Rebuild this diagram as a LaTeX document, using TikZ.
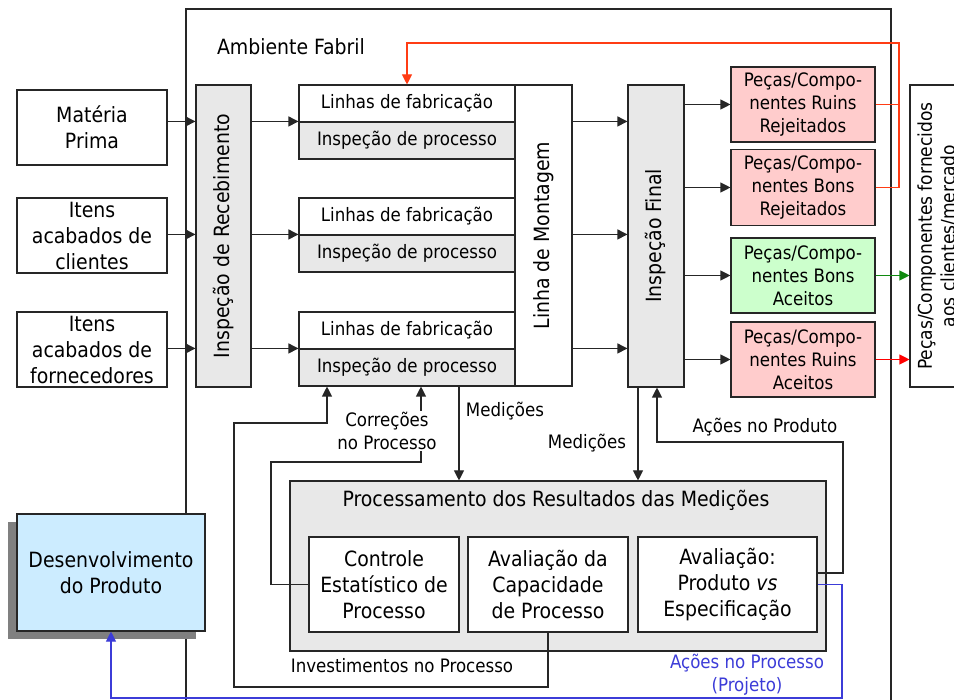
\documentclass[tikz,border=0pt]{standalone}
\usepackage{fontspec}
\setmainfont{DejaVu Sans Condensed}
\usetikzlibrary{arrows.meta,shadows}

\definecolor{boxgray}{HTML}{E8E8E8}
\definecolor{badpink}{HTML}{FFCCCC}
\definecolor{goodgreen}{HTML}{CCFFCC}
\definecolor{devblue}{HTML}{CCECFF}
\definecolor{feedred}{HTML}{FF3C14}
\definecolor{acceptred}{HTML}{FF0000}
\definecolor{acceptgreen}{HTML}{108A10}
\definecolor{projblue}{HTML}{3C3CD8}
\definecolor{shadowgray}{HTML}{808080}
\definecolor{linegray}{HTML}{262626}

\tikzset{
  box/.style={draw=linegray, line width=1.1pt, inner sep=2pt, align=center},
  bigtxt/.style={font=\fontsize{21}{26}\selectfont},
  midtxt/.style={font=\fontsize{19}{23}\selectfont},
  smalltxt/.style={font=\fontsize{18.5}{23}\selectfont},
  tip/.style={-{Triangle[length=10pt,width=10pt]}},
  link/.style={draw=linegray, line width=1.1pt},
  arr/.style={link, tip},
  feed/.style={draw=feedred, line width=1.1pt},
  feedarr/.style={feed, tip},
  redarr/.style={draw=acceptred, line width=1.1pt, tip},
  greenarr/.style={draw=acceptgreen, line width=1.1pt, tip},
  bluearr/.style={draw=projblue, line width=1.1pt, tip},
  lbl/.style={smalltxt, inner sep=1pt, align=center},
}

\begin{document}
\begin{tikzpicture}[x=1pt, y=-1pt]
\useasboundingbox (0,0) rectangle (954,700);
\clip (0,0) rectangle (954,700);
\fill[white] (0,0) rectangle (954,700);

% factory environment frame
\draw[link] (186,720) -- (186,9) -- (891,9) -- (891,720);
\node[bigtxt, anchor=center] (amb) at (291,47) {Ambiente Fabril};

% inputs
\node[box, bigtxt, minimum width=150, minimum height=75] (mp) at (92,127.5) {Matéria\\Prima};
\node[box, bigtxt, minimum width=150, minimum height=75] (ic) at (92,235.5) {Itens\\acabados de\\clientes};
\node[box, bigtxt, minimum width=150, minimum height=75] (if) at (92,349.5) {Itens\\acabados de\\fornecedores};

% receiving inspection
\node[box, fill=boxgray, minimum width=55, minimum height=302] (rec) at (223.5,236) {};
\node[bigtxt, rotate=90] (rectxt) at (rec) {Inspeção de Recebimento};

% production lines
\foreach \i/\y in {1/85, 2/198, 3/312} {
  \node[box, smalltxt, minimum width=216, minimum height=37] (l\i) at (407,\y+18.5) {Linhas de fabricação};
  \node[box, smalltxt, fill=boxgray, minimum width=216, minimum height=37] (p\i) at (407,\y+55.5) {Inspeção de processo};
}

% assembly line
\node[box, minimum width=57, minimum height=301] (lm) at (543.5,235.5) {};
\node[bigtxt, rotate=90] (lmtxt) at (lm) {Linha de Montagem};

% final inspection
\node[box, fill=boxgray, minimum width=56, minimum height=302] (fin) at (656,236) {};
\node[bigtxt, rotate=90] (fintxt) at (fin) {Inspeção Final};

% classified outputs
\node[box, smalltxt, fill=badpink, minimum width=144, minimum height=75] (o1) at (803,104.5) {Peças/Compo-\\nentes Ruins\\Rejeitados};
\node[box, smalltxt, fill=badpink, minimum width=144, minimum height=76] (o2) at (803,187.5) {Peças/Compo-\\nentes Bons\\Rejeitados};
\node[box, smalltxt, fill=goodgreen, minimum width=144, minimum height=75] (o3) at (803,275.5) {Peças/Compo-\\nentes Bons\\Aceitos};
\node[box, smalltxt, fill=badpink, minimum width=144, minimum height=75] (o4) at (803,359.5) {Peças/Compo-\\nentes Ruins\\Aceitos};

% delivered to market
\node[box, fill=white, minimum width=54, minimum height=302] (cli) at (937,236) {};
\node[midtxt, rotate=90, align=center] (clitxt) at (cli) {Peças/Componentes fornecidos\\aos clientes/mercado};

% main flow arrows
\draw[arr] (mp.east |- p1.north) -- (rec.west |- p1.north);
\draw[arr] (ic.east |- p2.north) -- (rec.west |- p2.north);
\draw[arr] (if.east |- p3.north) -- (rec.west |- p3.north);
\foreach \i in {1,2,3} {
  \draw[arr] (rec.east |- p\i.north) -- (p\i.north west);
  \draw[arr] (lm.east |- p\i.north) -- (fin.west |- p\i.north);
}
\foreach \i in {1,2,3,4} {
  \draw[arr] (fin.east |- o\i.west) -- (o\i.west);
}
\draw[greenarr] (o3.east) -- (o3.east -| cli.west);
\draw[redarr] (o4.east) -- (o4.east -| cli.west);

% rework loop of rejected parts
\coordinate (rc) at (899,43);
\draw[feed] (o1.east) -- (o1.east -| rc);
\draw[feedarr] (o2.east) -| (rc) -| (l1.north);

% measurement processing
\node[box, fill=boxgray, minimum width=536, minimum height=170] (proc) at (558,566) {};
\node[bigtxt] (proctitle) at (556,500) {Processamento dos Resultados das Medições};
\node[box, bigtxt, fill=white, minimum width=150, minimum height=95] (ce) at (384,584.5) {Controle\\Estatístico de\\Processo};
\node[box, bigtxt, fill=white, minimum width=160, minimum height=95] (ac) at (548,584.5) {Avaliação da\\Capacidade\\de Processo};
\node[box, bigtxt, fill=white, minimum width=179, minimum height=95] (ap) at (727.5,584.5) {Avaliação:\\Produto \textit{vs}\\Especificação};

% product development
\node[box, bigtxt, fill=devblue, minimum width=188, minimum height=117,
      drop shadow={shadow xshift=-9pt, shadow yshift=-8pt, fill=shadowgray, opacity=1}] (dev) at (111,572.5) {Desenvolvimento\\do Produto};

% measurements
\coordinate (m1) at (459,0);
\coordinate (m2) at (638,0);
\draw[arr] (m1 |- p3.south) -- (m1 |- proc.north);
\draw[arr] (m2 |- fin.south) -- (m2 |- proc.north);
\node[lbl] (med1) at (505,411) {Medições};
\node[lbl] (med2) at (587,443) {Medições};

% actions on the product
\coordinate (pa) at (843,442);
\coordinate (pf) at (657,0);
\draw[arr] ([yshift=11.5pt]ap.east) -| (pa) -| (pf |- fin.south);
\node[lbl] (acprod) at (765,427) {Ações no Produto};

% actions on the process (design)
\coordinate (pb) at (842,698);
\draw[bluearr] (ap.east) -| (pb) -| (dev.south);
\node[lbl, text=projblue] (acproc) at (747,675) {Ações no Processo\\(Projeto)};

% process corrections
\coordinate (cr1) at (271,462);
\coordinate (cr2) at (421,0);
\draw[arr] (ce.west) -| (cr1) -| (cr2 |- p3.south);
\node[lbl, fill=white] (corr) at (387,431) {Correções\\no Processo};

% process investments
\coordinate (iv1) at (234,687);
\coordinate (iv2) at (327,423);
\draw[arr] (ac.south) |- (iv1) |- (iv2) -- (iv2 |- p3.south);
\node[lbl] (invest) at (402,666) {Investimentos no Processo};

\end{tikzpicture}
\end{document}
